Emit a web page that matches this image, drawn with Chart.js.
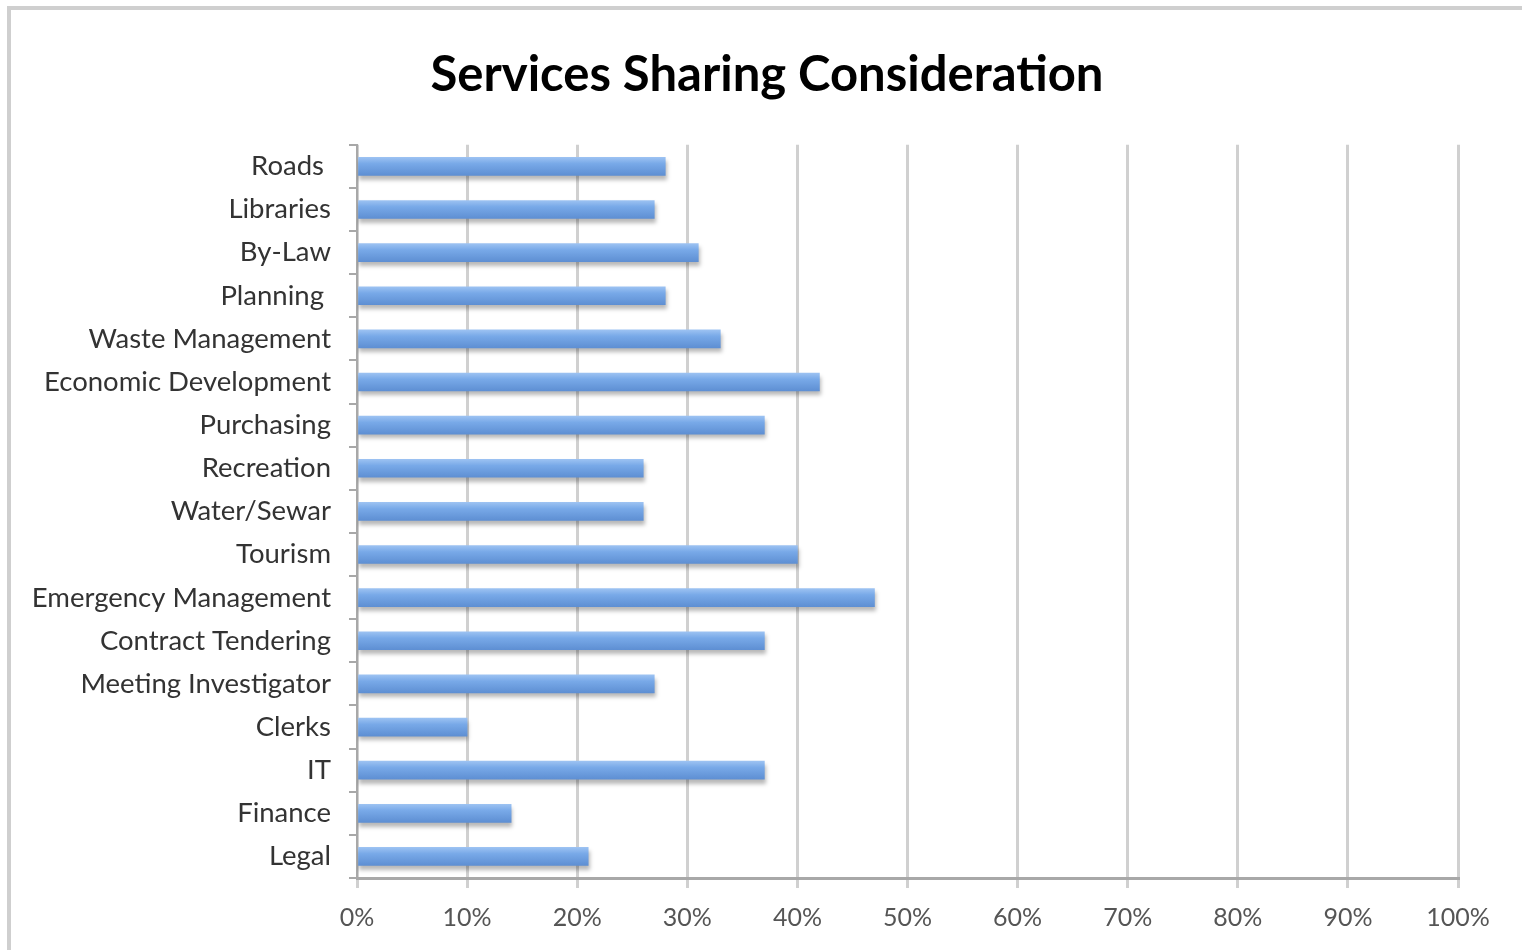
<!DOCTYPE html>
<html>
<head>
<meta charset="utf-8">
<script src="https://cdn.jsdelivr.net/npm/chart.js@4.4.0/dist/chart.umd.min.js"></script>
<style>
  html, body { margin: 0; padding: 0; background: #fff; overflow: hidden; }
  #frame { position: absolute; left: 7px; top: 6px; width: 1540px; height: 980px; border: 4px solid #cfcfcf; box-sizing: border-box; }
  #wrap { position: absolute; left: 0; top: 0; width: 1522px; height: 950px; }
</style>
</head>
<body>
<div id="frame"></div>
<div id="wrap"><canvas id="c" width="1522" height="950"></canvas></div>
<script>
const categories = [
  "Roads ", "Libraries", "By-Law", "Planning ", "Waste Management",
  "Economic Development", "Purchasing", "Recreation", "Water/Sewar", "Tourism",
  "Emergency Management", "Contract Tendering", "Meeting Investigator", "Clerks",
  "IT", "Finance", "Legal"
];
const shareValues = [28, 27, 31, 28, 33, 42, 37, 26, 26, 40, 47, 37, 27, 10, 37, 14, 21];
const xTickValues = [0, 10, 20, 30, 40, 50, 60, 70, 80, 90, 100];
const chartTitle = "Services Sharing Consideration";

const shadowPlugin = {
  id: 'barShadow',
  beforeDatasetsDraw(chart) {
    const ctx = chart.ctx;
    ctx.save();
    ctx.shadowColor = 'rgba(0,0,0,0.28)';
    ctx.shadowBlur = 4;
    ctx.shadowOffsetX = 1;
    ctx.shadowOffsetY = 4;
  },
  afterDatasetsDraw(chart) {
    chart.ctx.restore();
  }
};

new Chart(document.getElementById('c'), {
  type: 'bar',
  data: {
    labels: categories,
    datasets: [{
      data: shareValues,
      backgroundColor: (ctx) => {
        const chart = ctx.chart;
        const ys = chart.scales && chart.scales.y;
        if (!ys || !chart.chartArea || ctx.dataIndex === undefined) return '#6f9fe0';
        const y = ys.getPixelForValue(ctx.dataIndex);
        if (!isFinite(y)) return '#6f9fe0';
        const h = 18;
        const g = chart.ctx.createLinearGradient(0, y - h / 2, 0, y + h / 2);
        g.addColorStop(0, '#9cc2f2');
        g.addColorStop(0.35, '#78a9e8');
        g.addColorStop(1, '#5e8fd3');
        return g;
      },
      borderWidth: 0,
      barThickness: 18
    }]
  },
  plugins: [shadowPlugin],
  options: {
    indexAxis: 'y',
    responsive: false,
    animation: false,
    layout: { padding: { left: 12, right: 0, top: 0, bottom: 0 } },
    plugins: {
      legend: { display: false },
      tooltip: { enabled: false },
      title: {
        display: true,
        text: chartTitle,
        color: '#000',
        font: { family: 'Lato', size: 49, weight: 'bold' },
        padding: { top: 46, bottom: 40 }
      }
    },
    scales: {
      x: {
        min: 0,
        max: 100,
        afterBuildTicks: (s) => { s.ticks = xTickValues.map(v => ({ value: v })); },
        ticks: {
          callback: (v) => v + '%',
          color: '#555',
          font: { family: 'Lato', size: 25 },
          padding: 15,
          maxRotation: 0
        },
        grid: {
          color: '#d0d0d0',
          lineWidth: 3,
          tickLength: 10,
          tickColor: '#d0d0d0'
        },
        border: { color: '#a8a8a8', width: 3 },
        afterFit: (s) => { s.height = 72; }
      },
      y: {
        ticks: {
          color: '#333',
          font: { family: 'Lato', size: 27.5 },
          padding: 18
        },
        grid: {
          offset: true,
          drawOnChartArea: false,
          drawTicks: true,
          tickLength: 8,
          color: '#a8a8a8',
          lineWidth: 2
        },
        border: { color: '#a8a8a8', width: 2 },
        afterFit: (s) => { s.width = 345; }
      },
      spacer: {
        type: 'linear',
        axis: 'y',
        position: 'right',
        display: true,
        grid: { display: false, drawTicks: false },
        border: { display: false },
        ticks: { display: false },
        afterFit: (s) => { s.width = 64; }
      }
    }
  }
});
</script>
</body>
</html>
